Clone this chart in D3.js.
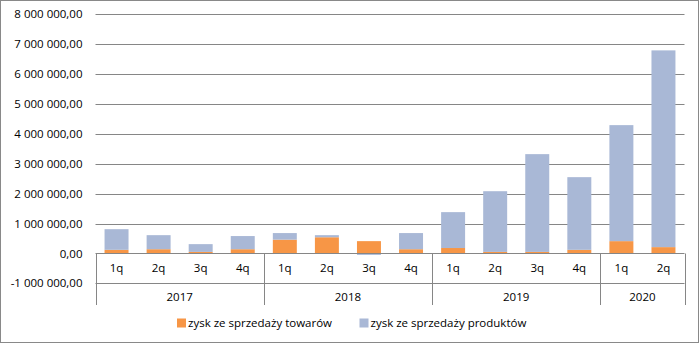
<!DOCTYPE html>
<html><head><meta charset="utf-8">
<script src="https://cdn.jsdelivr.net/npm/d3@7"></script>
<style>
html,body{margin:0;padding:0;background:#fff;}
text{font-family:"Open Sans",Arial,sans-serif;font-size:11.5px;fill:#000;}
</style></head>
<body><svg id="c" width="700" height="344"></svg>
<script>
const years = ["2017","2018","2019","2020"];
const quarters = [["1q","2q","3q","4q"],["1q","2q","3q","4q"],["1q","2q","3q","4q"],["1q","2q"]];
const towarow = [120000,140000,50000,140000, 460000,540000,410000,140000, 180000,50000,50000,120000, 410000,210000];
const produktow = [690000,470000,260000,440000, 220000,70000,-50000,540000, 1200000,2030000,3270000,2430000, 3880000,6580000];
const seriesNames = ["zysk ze sprzedaży towarów","zysk ze sprzedaży produktów"];
const colors = ["#F79646","#A9B8D6"];
const yTicks = [-1000000,0,1000000,2000000,3000000,4000000,5000000,6000000,7000000,8000000];

const svg = d3.select("#c");
svg.append("rect").attr("x",0.5).attr("y",0.5).attr("width",698).attr("height",342)
  .attr("fill","#fff").attr("stroke","#898989");

const L = 95.5, R = 684.5, T = 14.2, B = 283.3;
const cats = [];
quarters.forEach((qs,i)=>qs.forEach((q,j)=>cats.push(years[i]+"-"+q)));
const x = d3.scaleBand().domain(cats).range([L,R]).paddingInner(0.43).paddingOuter(0.215);
const step = (R-L)/cats.length;
const y = d3.scaleLinear().domain([-1000000,8000000]).range([B,T]);

const fmt = v => d3.format(",.2f")(v).replace(/,/g," ").replace(".",",").replace("\u2212","-");

// gridlines
svg.append("g").selectAll("line").data(yTicks.filter(d=>d!==0)).join("line")
  .attr("x1",L).attr("x2",R).attr("y1",d=>Math.round(y(d))+0.5).attr("y2",d=>Math.round(y(d))+0.5)
  .attr("stroke","#868686").attr("stroke-width",1);

// y axis labels
const yAx = d3.axisLeft(y).tickValues(yTicks).tickFormat(fmt).tickSize(0).tickPadding(13);
const gy = svg.append("g").attr("transform",`translate(${L},0)`).call(yAx);
gy.select(".domain").remove();
gy.selectAll("text").style("font-family","'Open Sans', Arial, sans-serif").style("font-size","11.5px").attr("fill","#000");

// stacked bars
const stackData = cats.map((c,i)=>({cat:c, t:towarow[i], p:produktow[i]}));
stackData.forEach(d=>{
  let pos=0,neg=0;
  d.segs=[];
  [d.t,d.p].forEach((v,k)=>{
    if(v>=0){d.segs.push({k,y0:pos,y1:pos+v});pos+=v;}
    else {d.segs.push({k,y0:neg+v,y1:neg});neg+=v;}
  });
});
const gb = svg.append("g");
stackData.forEach(d=>{
  d.segs.forEach(s=>{
    gb.append("rect").attr("x",x(d.cat)).attr("width",x.bandwidth())
      .attr("y",y(s.y1)).attr("height",y(s.y0)-y(s.y1)).attr("fill",colors[s.k]);
  });
});

// category axis
const y0 = Math.round(y(0))+0.5;
const axisColor = "#868686";
const ga = svg.append("g");
ga.append("line").attr("x1",L).attr("x2",R).attr("y1",y0).attr("y2",y0).attr("stroke",axisColor);
ga.selectAll("text.q").data(cats).join("text").attr("class","q")
  .attr("x",d=>x(d)+x.bandwidth()/2).attr("y",y0+18).attr("text-anchor","middle")
  .text(d=>d.split("-")[1]);
let idx=0;
const bounds=[0];
quarters.forEach(qs=>{idx+=qs.length;bounds.push(idx);});
bounds.forEach(b=>{
  const xx = Math.round(L+b*step)+0.5;
  ga.append("line").attr("x1",xx).attr("x2",xx).attr("y1",y0).attr("y2",305).attr("stroke",axisColor);
});
years.forEach((yr,i)=>{
  const xm = L+(bounds[i]+bounds[i+1])/2*step;
  ga.append("text").attr("x",xm).attr("y",301).attr("text-anchor","middle").text(yr);
});

// legend
const lg = svg.append("g");
const lx = [177,359.5];
seriesNames.forEach((n,i)=>{
  lg.append("rect").attr("x",lx[i]).attr("y",318.5).attr("width",9).attr("height",9).attr("fill",colors[i]);
  lg.append("text").attr("x",lx[i]+11).attr("y",327).text(n);
});
</script></body></html>
